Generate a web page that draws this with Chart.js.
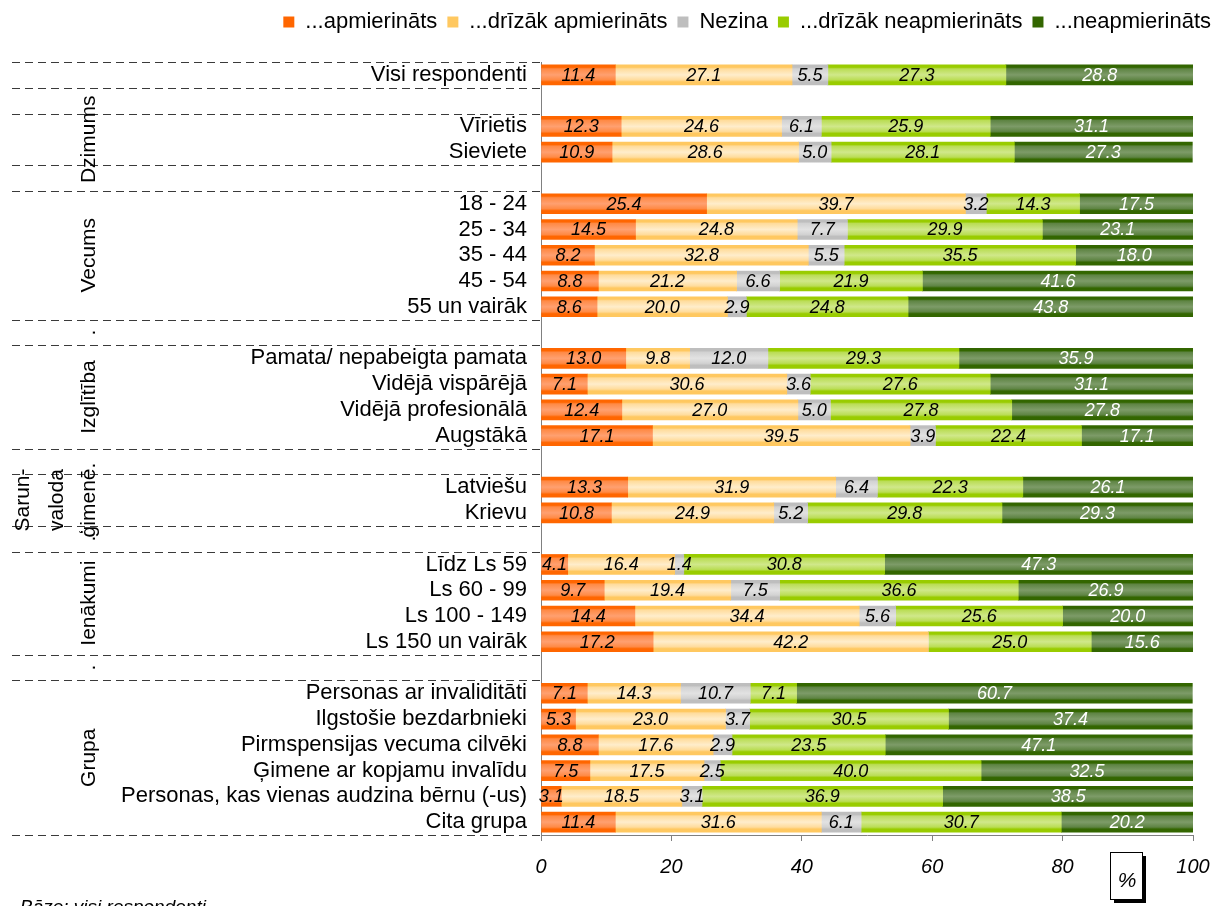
<!DOCTYPE html>
<html>
<head>
<meta charset="utf-8">
<script src="https://cdn.jsdelivr.net/npm/chart.js@4.4.1/dist/chart.umd.min.js"></script>
<style>
html,body{margin:0;padding:0;background:#fff;}
#wrap{width:1221px;height:906px;position:relative;}
</style>
</head>
<body>
<div id="wrap"><canvas id="c" width="1221" height="906"></canvas></div>
<script>
// ---- DATA ----
const categories = [
  'Visi respondenti', '',
  'Vīrietis', 'Sieviete', '',
  '18 - 24', '25 - 34', '35 - 44', '45 - 54', '55 un vairāk', '',
  'Pamata/ nepabeigta pamata', 'Vidējā vispārējā', 'Vidējā profesionālā', 'Augstākā', '',
  'Latviešu', 'Krievu', '',
  'Līdz Ls 59', 'Ls 60 - 99', 'Ls 100 - 149', 'Ls 150 un vairāk', '',
  'Personas ar invaliditāti', 'Ilgstošie bezdarbnieki', 'Pirmspensijas vecuma cilvēki',
  'Ģimene ar kopjamu invalīdu', 'Personas, kas vienas audzina bērnu (-us)', 'Cita grupa'
];
const seriesNames = ['...apmierināts', '...drīzāk apmierināts', 'Nezina', '...drīzāk neapmierināts', '...neapmierināts'];
const apmierinats = [11.4, null, 12.3, 10.9, null, 25.4, 14.5, 8.2, 8.8, 8.6, null, 13.0, 7.1, 12.4, 17.1, null, 13.3, 10.8, null, 4.1, 9.7, 14.4, 17.2, null, 7.1, 5.3, 8.8, 7.5, 3.1, 11.4];
const drizakApmierinats = [27.1, null, 24.6, 28.6, null, 39.7, 24.8, 32.8, 21.2, 20.0, null, 9.8, 30.6, 27.0, 39.5, null, 31.9, 24.9, null, 16.4, 19.4, 34.4, 42.2, null, 14.3, 23.0, 17.6, 17.5, 18.5, 31.6];
const nezina = [5.5, null, 6.1, 5.0, null, 3.2, 7.7, 5.5, 6.6, 2.9, null, 12.0, 3.6, 5.0, 3.9, null, 6.4, 5.2, null, 1.4, 7.5, 5.6, 0, null, 10.7, 3.7, 2.9, 2.5, 3.1, 6.1];
const drizakNeapmierinats = [27.3, null, 25.9, 28.1, null, 14.3, 29.9, 35.5, 21.9, 24.8, null, 29.3, 27.6, 27.8, 22.4, null, 22.3, 29.8, null, 30.8, 36.6, 25.6, 25.0, null, 7.1, 30.5, 23.5, 40.0, 36.9, 30.7];
const neapmierinats = [28.8, null, 31.1, 27.3, null, 17.5, 23.1, 18.0, 41.6, 43.8, null, 35.9, 31.1, 27.8, 17.1, null, 26.1, 29.3, null, 47.3, 26.9, 20.0, 15.6, null, 60.7, 37.4, 47.1, 32.5, 38.5, 20.2];
const xTicks = [0, 20, 40, 60, 80, 100];
// group segments along the category axis: [label lines, first index, last index]
const groupLabels = [
  [[], 0, 0],
  [[], 1, 1],
  [['Dzimums'], 2, 3],
  [[], 4, 4],
  [['Vecums'], 5, 9],
  [['.'], 10, 10],
  [['Izglītība'], 11, 14],
  [[], 15, 15],
  [['Sarun-', 'valoda', 'ģimenē.'], 16, 17],
  [['.'], 18, 18],
  [['Ienākumi'], 19, 22],
  [['.'], 23, 23],
  [['Grupa'], 24, 29]
];
const footnote = 'Bāze: visi respondenti';
const unitLabel = '%';

// ---- STYLE ----
const FONT = '"Liberation Sans", Arial, sans-serif';
const BAR_H = 20;
const palettes = [
  ['#FF6600', '#FF8A45', '#FFA070'],
  ['#FFC860', '#FFDC9C', '#FFEDCB'],
  ['#BEBEBE', '#D2D2D2', '#E2E2E2'],
  ['#99CC00', '#BADD55', '#D0E88A'],
  ['#336600', '#5E8443', '#7D9B68']
];
function barFill(ctx, p) {
  const chart = ctx.chart;
  if (ctx.type !== 'data' || !chart.chartArea || !chart.scales.y) return p[1];
  const y = chart.scales.y.getPixelForValue(ctx.dataIndex);
  const g = chart.ctx.createLinearGradient(0, y - BAR_H / 2, 0, y + BAR_H / 2);
  g.addColorStop(0, p[0]);
  g.addColorStop(0.12, p[0]);
  g.addColorStop(0.2, p[1]);
  g.addColorStop(0.5, p[2]);
  g.addColorStop(0.75, p[1]);
  g.addColorStop(0.85, p[0]);
  g.addColorStop(1, p[0]);
  return g;
}
const seriesData = [apmierinats, drizakApmierinats, nezina, drizakNeapmierinats, neapmierinats];
const datasets = seriesData.map((d, i) => ({
  label: seriesNames[i],
  data: d,
  backgroundColor: (ctx) => barFill(ctx, palettes[i]),
  borderWidth: 0,
  barThickness: BAR_H
}));

const valueLabels = {
  id: 'valueLabels',
  afterDatasetsDraw(chart) {
    const c = chart.ctx;
    c.save();
    c.font = 'italic 18px ' + FONT;
    c.textAlign = 'center';
    c.textBaseline = 'middle';
    chart.data.datasets.forEach((ds, di) => {
      const meta = chart.getDatasetMeta(di);
      c.fillStyle = di === 4 ? '#FFFFFF' : '#000000';
      meta.data.forEach((bar, i) => {
        const v = ds.data[i];
        if (v == null || v === 0) return;
        c.fillText(v.toFixed(1), (bar.x + bar.base) / 2, bar.y + 1);
      });
    });
    c.restore();
  }
};

const decorations = {
  id: 'decorations',
  afterDraw(chart) {
    const c = chart.ctx;
    const y = chart.scales.y;
    const half = (y.getPixelForValue(1) - y.getPixelForValue(0)) / 2;
    const left = chart.chartArea.left;
    c.save();
    // dashed separators
    c.strokeStyle = '#3A3A3A';
    c.lineWidth = 1;
    c.setLineDash([8, 5]);
    const bounds = new Set();
    groupLabels.forEach(g => { bounds.add(g[1]); bounds.add(g[2] + 1); });
    bounds.forEach(b => {
      const py = Math.round(y.getPixelForValue(b) - half) + 0.5;
      c.beginPath();
      c.moveTo(12, py);
      c.lineTo(left, py);
      c.stroke();
    });
    c.setLineDash([]);
    // group labels (rotated)
    c.fillStyle = '#000';
    c.font = '21px ' + FONT;
    c.textAlign = 'center';
    c.textBaseline = 'middle';
    groupLabels.forEach(g => {
      const lines = g[0];
      if (!lines.length) return;
      const cy = (y.getPixelForValue(g[1]) + y.getPixelForValue(g[2])) / 2;
      const xs = lines.length === 3 ? [23, 57, 89] : [89];
      lines.forEach((t, k) => {
        c.save();
        c.translate(xs[k], cy);
        c.rotate(-Math.PI / 2);
        c.fillText(t, 0, 0);
        c.restore();
      });
    });
    // unit box
    const bx = 1110, by = 852, bw = 32, bh = 47;
    c.fillStyle = '#000';
    c.fillRect(bx + 4, by + 4, bw, bh);
    c.fillStyle = '#fff';
    c.fillRect(bx, by, bw, bh);
    c.strokeStyle = '#000';
    c.lineWidth = 1;
    c.strokeRect(bx + 0.5, by + 0.5, bw, bh);
    c.fillStyle = '#000';
    c.font = 'italic 21px ' + FONT;
    c.textAlign = 'center';
    c.textBaseline = 'middle';
    c.fillText(unitLabel, bx + bw / 2 + 1, by + bh / 2 + 6);
    // footnote
    c.textAlign = 'left';
    c.textBaseline = 'alphabetic';
    c.font = 'italic 19px ' + FONT;
    c.fillText(footnote, 20, 913);
    c.restore();
  }
};

new Chart(document.getElementById('c'), {
  type: 'bar',
  data: { labels: categories, datasets },
  plugins: [valueLabels, decorations],
  options: {
    indexAxis: 'y',
    responsive: false,
    animation: false,
    layout: { padding: { left: 0, right: 0, top: 1, bottom: 0 } },
    plugins: {
      legend: {
        position: 'top',
        align: 'end',
        labels: {
          boxWidth: 11, boxHeight: 11, padding: 10,
          color: '#000',
          font: { family: FONT, size: 22 }
        }
      },
      tooltip: { enabled: false }
    },
    scales: {
      x: {
        stacked: true,
        min: 0, max: 100,
        afterBuildTicks: (s) => { s.ticks = xTicks.map(v => ({ value: v })); },
        afterFit: (s) => { s.height = 71; s.paddingRight = 0; s.paddingLeft = 0; },
        grid: { drawOnChartArea: false, drawTicks: true, tickLength: 6, color: '#808080' },
        border: { display: true, color: '#808080' },
        ticks: { color: '#000', padding: 14, font: { family: FONT, size: 20, style: 'italic' } }
      },
      x2: {
        type: 'linear', position: 'top', min: 0, max: 1,
        afterFit: (s) => { s.height = 19; s.paddingRight = 0; s.paddingLeft = 0; },
        grid: { display: false },
        border: { display: false },
        ticks: { display: false }
      },
      y: {
        stacked: true,
        afterFit: (s) => { s.width = 541; },
        grid: { display: false },
        border: { display: true, color: '#808080', dash: [7, 5] },
        ticks: { color: '#000', padding: 6, autoSkip: false, font: { family: FONT, size: 22 } }
      },
      y2: {
        type: 'linear', position: 'right', min: 0, max: 1,
        afterFit: (s) => { s.width = 28; s.paddingTop = 0; s.paddingBottom = 0; },
        grid: { display: false },
        border: { display: false },
        ticks: { display: false }
      }
    }
  }
});
</script>
</body>
</html>
